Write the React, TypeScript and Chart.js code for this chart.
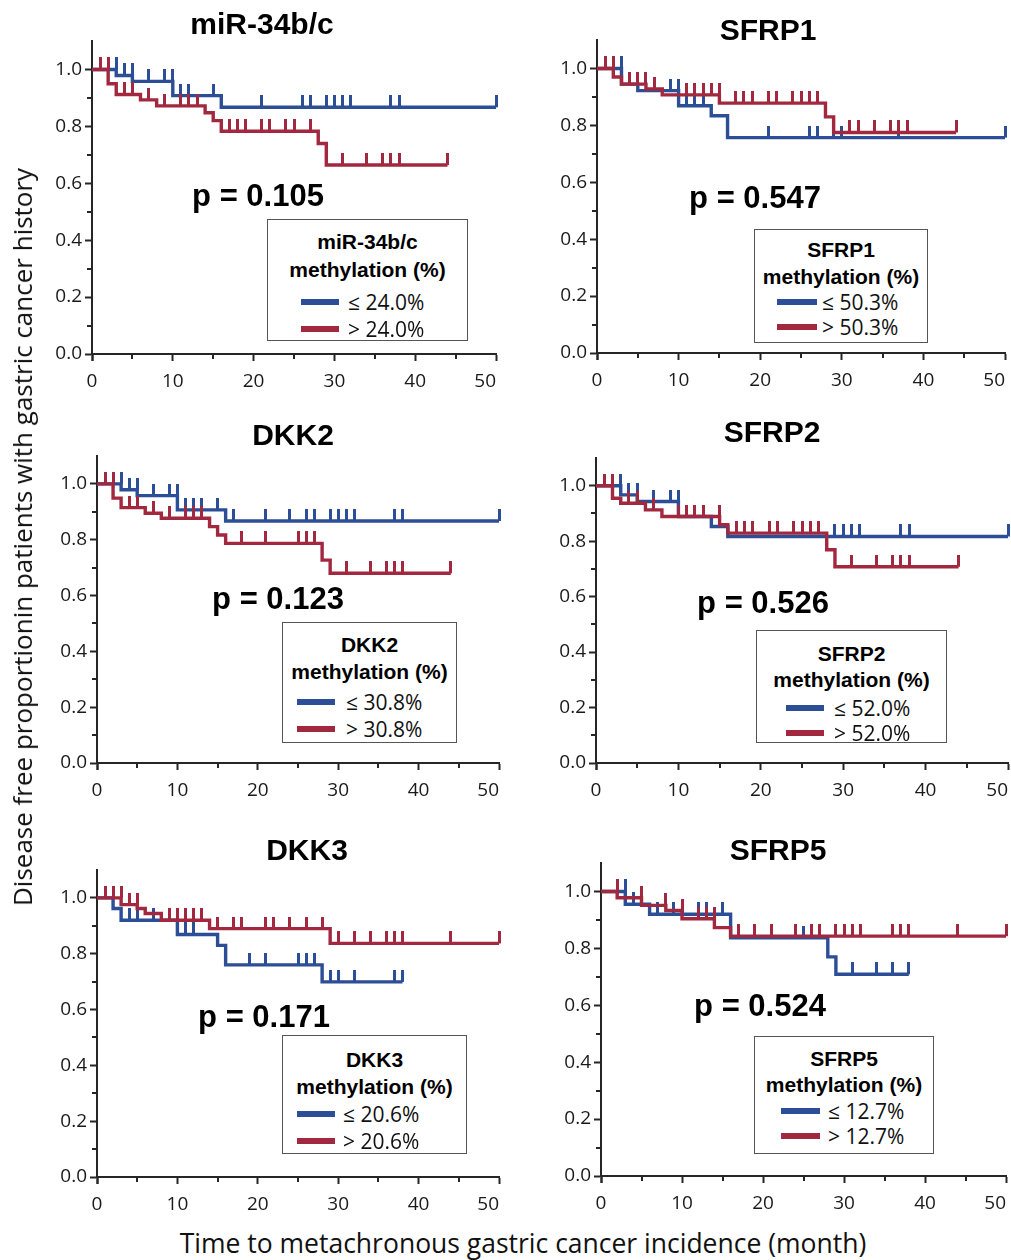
import React, { useEffect, useRef } from "react";
import { Chart, registerables } from "chart.js";

Chart.register(...registerables);

const BLUE = "#2b4e96";
const RED = "#a2283f";
const AXIS = "#262626";

// ---- axis ticks ----
const xTickValues = [0, 10, 20, 30, 40, 50];
const xMinorValues = [5, 15, 25, 35, 45];
const yTickValues = [0, 0.2, 0.4, 0.6, 0.8, 1.0];
const yMinorValues = [0.1, 0.3, 0.5, 0.7, 0.9];
const X_MAX = 50;
const Y_MAX = 1.1;

// ---- panel texts ----
const panelTitles = ["miR-34b/c", "SFRP1", "DKK2", "SFRP2", "DKK3", "SFRP5"];
const pValues = ["p = 0.105", "p = 0.547", "p = 0.123", "p = 0.526", "p = 0.171", "p = 0.524"];
const cutoffs = ["24.0%", "50.3%", "30.8%", "52.0%", "20.6%", "12.7%"];

// ---- miR-34b/c ----
const mirLowTimes = [3, 5, 10, 16];
const mirLowSurv = [0.979, 0.958, 0.908, 0.867];
const mirLowCensor = [3, 4, 5, 7, 9, 10, 11, 12, 15, 21, 26, 27, 29, 30, 31, 32, 37, 38, 50];
const mirHighTimes = [2, 3, 6, 8, 14, 15, 16, 28, 29];
const mirHighSurv = [0.95, 0.912, 0.893, 0.872, 0.848, 0.82, 0.783, 0.74, 0.664];
const mirHighCensor = [1, 2, 4, 5, 7, 9, 11, 12, 13, 17, 18, 19, 21, 22, 24, 25, 27, 31, 34, 36, 37, 38, 44];

// ---- SFRP1 ----
const sfrp1LowTimes = [3, 5, 10, 14, 16];
const sfrp1LowSurv = [0.945, 0.922, 0.869, 0.834, 0.757];
const sfrp1LowCensor = [3, 9, 10, 11, 12, 13, 21, 26, 27, 29, 30, 37, 50];
const sfrp1HighTimes = [2, 3, 6, 8, 15, 28, 29];
const sfrp1HighSurv = [0.97, 0.945, 0.928, 0.907, 0.878, 0.83, 0.775];
const sfrp1HighCensor = [1, 2, 4, 5, 6, 7, 11, 12, 13, 14, 15, 17, 18, 19, 21, 22, 24, 25, 26, 27, 31, 32, 34, 36, 37, 38, 44];

// ---- DKK2 ----
const dkk2LowTimes = [3, 5, 10, 16];
const dkk2LowSurv = [0.979, 0.958, 0.907, 0.867];
const dkk2LowCensor = [3, 4, 5, 7, 9, 10, 11, 12, 13, 15, 17, 21, 24, 26, 27, 29, 30, 31, 32, 37, 38, 50];
const dkk2HighTimes = [2, 3, 6, 8, 14, 15, 16, 28, 29];
const dkk2HighSurv = [0.949, 0.915, 0.895, 0.877, 0.847, 0.817, 0.787, 0.727, 0.68];
const dkk2HighCensor = [1, 2, 4, 5, 7, 9, 11, 12, 13, 18, 21, 25, 26, 27, 31, 34, 36, 37, 38, 44];

// ---- SFRP2 ----
const sfrp2LowTimes = [3, 5, 10, 14, 16];
const sfrp2LowSurv = [0.967, 0.943, 0.889, 0.853, 0.817];
const sfrp2LowCensor = [3, 4, 5, 7, 9, 10, 29, 30, 31, 32, 37, 38, 50];
const sfrp2HighTimes = [2, 3, 6, 8, 15, 16, 28, 29];
const sfrp2HighSurv = [0.955, 0.937, 0.913, 0.889, 0.859, 0.829, 0.769, 0.708];
const sfrp2HighCensor = [1, 2, 4, 5, 7, 10, 11, 12, 13, 15, 17, 18, 19, 21, 22, 24, 25, 26, 27, 31, 34, 36, 37, 38, 44];

// ---- DKK3 ----
const dkk3LowTimes = [2, 3, 10, 15, 16, 28];
const dkk3LowSurv = [0.962, 0.92, 0.869, 0.83, 0.76, 0.699];
const dkk3LowCensor = [4, 5, 7, 11, 12, 19, 21, 25, 26, 27, 29, 30, 32, 37, 38];
const dkk3HighTimes = [3, 5, 6, 8, 14, 29];
const dkk3HighSurv = [0.976, 0.962, 0.944, 0.92, 0.89, 0.837];
const dkk3HighCensor = [1, 2, 3, 4, 5, 9, 10, 11, 12, 13, 15, 17, 18, 21, 22, 24, 26, 28, 30, 32, 34, 36, 37, 38, 44, 50];

// ---- SFRP5 ----
const sfrp5LowTimes = [3, 6, 16, 28, 29];
const sfrp5LowSurv = [0.955, 0.92, 0.837, 0.77, 0.709];
const sfrp5LowCensor = [3, 4, 5, 7, 9, 10, 12, 13, 15, 25, 31, 34, 36, 38];
const sfrp5HighTimes = [2, 5, 8, 10, 14, 16];
const sfrp5HighSurv = [0.978, 0.951, 0.933, 0.904, 0.873, 0.843];
const sfrp5HighCensor = [2, 5, 8, 10, 12, 13, 14, 17, 19, 21, 24, 26, 27, 29, 30, 31, 32, 36, 37, 38, 44, 50];

type Series = { times: number[]; surv: number[]; censor: number[] };

const seriesLow: Series[] = [
  { times: mirLowTimes, surv: mirLowSurv, censor: mirLowCensor },
  { times: sfrp1LowTimes, surv: sfrp1LowSurv, censor: sfrp1LowCensor },
  { times: dkk2LowTimes, surv: dkk2LowSurv, censor: dkk2LowCensor },
  { times: sfrp2LowTimes, surv: sfrp2LowSurv, censor: sfrp2LowCensor },
  { times: dkk3LowTimes, surv: dkk3LowSurv, censor: dkk3LowCensor },
  { times: sfrp5LowTimes, surv: sfrp5LowSurv, censor: sfrp5LowCensor },
];
const seriesHigh: Series[] = [
  { times: mirHighTimes, surv: mirHighSurv, censor: mirHighCensor },
  { times: sfrp1HighTimes, surv: sfrp1HighSurv, censor: sfrp1HighCensor },
  { times: dkk2HighTimes, surv: dkk2HighSurv, censor: dkk2HighCensor },
  { times: sfrp2HighTimes, surv: sfrp2HighSurv, censor: sfrp2HighCensor },
  { times: dkk3HighTimes, surv: dkk3HighSurv, censor: dkk3HighCensor },
  { times: sfrp5HighTimes, surv: sfrp5HighSurv, censor: sfrp5HighCensor },
];

// ---- layout (pixels) ----
// plot area: x of value 0, x of value 50, y of value 1.0, y of value 0
const plotGeo = [
  { x0: 92, x1: 496, y1: 69, y0: 354 },
  { x0: 597, x1: 1005, y1: 68, y0: 353 },
  { x0: 97, x1: 499, y1: 484, y0: 763 },
  { x0: 596, x1: 1008, y1: 486, y0: 763 },
  { x0: 97, x1: 499, y1: 898, y0: 1177 },
  { x0: 601, x1: 1006, y1: 891, y0: 1176 },
];
const titlePos = [
  [262, 24], [768, 30], [293, 435], [772, 432], [307, 850], [778, 850],
];
const pPos = [
  [258, 195], [755, 197], [278, 598], [763, 602], [264, 1016], [760, 1005],
];
// legend: left, top, width, height, title1 y, title2 y, entry1 y, entry2 y, line left, line width, text left
const legendGeo = [
  [267, 219, 201, 122, 21, 49, 82, 109, 33, 38, 80],
  [754, 229, 174, 114, 19, 46, 72, 97, 22, 40, 67],
  [282, 622, 175, 121, 21, 48, 79, 106, 14, 38, 63],
  [756, 630, 191, 113, 22, 48, 77, 102, 29, 38, 77],
  [282, 1035, 185, 119, 23, 50, 78, 105, 14, 38, 60],
  [754, 1036, 180, 118, 21, 47, 74, 99, 26, 39, 73],
];

const PAD_L = 4;
const AXIS_W = 52;
const PAD_R = 22;
const PAD_T = 14;
const AXIS_H = 40;

function survAt(s: Series, t: number): number {
  let v = 1;
  for (let i = 0; i < s.times.length; i++) if (s.times[i] < t) v = s.surv[i];
  return v;
}

function linePoints(s: Series) {
  const pts = [{ x: 0, y: 1 }];
  s.times.forEach((t, i) => pts.push({ x: t, y: s.surv[i] }));
  const end = Math.max(...s.censor, ...s.times);
  pts.push({ x: end, y: s.surv[s.surv.length - 1] });
  return pts;
}

function censorPoints(s: Series) {
  return s.censor.map((t) => ({ x: t, y: survAt(s, t) }));
}

function makeTick(color: string) {
  const c = document.createElement("canvas");
  c.width = 3;
  c.height = 24;
  const g = c.getContext("2d")!;
  g.fillStyle = color;
  g.fillRect(0, 0, 3, 12);
  return c;
}

const minorTicksPlugin = {
  id: "minorTicks",
  afterDraw(chart: any) {
    const { ctx, chartArea } = chart;
    const xs = chart.scales.x;
    const ys = chart.scales.y;
    ctx.save();
    ctx.strokeStyle = AXIS;
    ctx.lineWidth = 2;
    xMinorValues.forEach((v) => {
      const px = Math.round(xs.getPixelForValue(v));
      ctx.beginPath();
      ctx.moveTo(px, chartArea.bottom);
      ctx.lineTo(px, chartArea.bottom + 5);
      ctx.stroke();
    });
    yMinorValues.forEach((v) => {
      const py = Math.round(ys.getPixelForValue(v));
      ctx.beginPath();
      ctx.moveTo(chartArea.left, py);
      ctx.lineTo(chartArea.left - 5, py);
      ctx.stroke();
    });
    ctx.restore();
  },
};

function Panel({ idx }: { idx: number }) {
  const ref = useRef<HTMLCanvasElement | null>(null);
  const g = plotGeo[idx];
  const yTop = Math.round(g.y0 - Y_MAX * (g.y0 - g.y1));
  const left = g.x0 - AXIS_W - PAD_L;
  const top = yTop - PAD_T;
  const width = g.x1 - g.x0 + AXIS_W + PAD_L + PAD_R;
  const height = g.y0 - yTop + PAD_T + AXIS_H;

  useEffect(() => {
    if (!ref.current) return;
    const low = seriesLow[idx];
    const high = seriesHigh[idx];
    const tickFont = { family: "'Open Sans', sans-serif", size: 19 };
    const chart = new Chart(ref.current, {
      type: "line",
      data: {
        datasets: [
          {
            data: linePoints(high),
            borderColor: RED,
            borderWidth: 3.4,
            stepped: "before",
            pointRadius: 0,
            fill: false,
            clip: false,
          } as any,
          {
            data: censorPoints(high),
            showLine: false,
            pointStyle: makeTick(RED),
            pointRadius: 5,
            clip: false,
          } as any,
          {
            data: linePoints(low),
            borderColor: BLUE,
            borderWidth: 3.4,
            stepped: "before",
            pointRadius: 0,
            fill: false,
            clip: false,
          } as any,
          {
            data: censorPoints(low),
            showLine: false,
            pointStyle: makeTick(BLUE),
            pointRadius: 5,
            clip: false,
          } as any,
        ],
      },
      options: {
        responsive: false,
        animation: false,
        devicePixelRatio: 1,
        events: [],
        layout: { padding: { left: PAD_L, right: PAD_R, top: PAD_T, bottom: 0 } },
        plugins: { legend: { display: false }, tooltip: { enabled: false } },
        scales: {
          x: {
            type: "linear",
            min: 0,
            max: X_MAX,
            // a blank leading tick lets "inner" alignment keep "0" centred
            // while the last label ("50") sits inside the axis end
            afterBuildTicks: (s: any) => {
              s.ticks = [{ value: 0, blank: true }].concat(
                xTickValues.map((v) => ({ value: v })) as any
              );
            },
            afterFit: (s: any) => {
              s.height = AXIS_H;
              s.paddingLeft = 0;
              s.paddingRight = 0;
            },
            border: { color: AXIS, width: 2 },
            grid: { drawOnChartArea: false, tickLength: 7, tickWidth: 2, tickColor: AXIS },
            ticks: {
              autoSkip: false,
              maxRotation: 0,
              align: "inner",
              padding: 9,
              color: "#1a1a1a",
              font: tickFont,
              callback: (v: any, i: number) => (i === 0 ? "" : String(v)),
            },
          },
          y: {
            type: "linear",
            min: 0,
            max: Y_MAX,
            afterBuildTicks: (s: any) => {
              s.ticks = yTickValues.map((v) => ({ value: v }));
            },
            afterFit: (s: any) => {
              s.width = AXIS_W;
              s.paddingTop = 0;
              s.paddingBottom = 0;
            },
            border: { color: AXIS, width: 2 },
            grid: { drawOnChartArea: false, tickLength: 7, tickWidth: 2, tickColor: AXIS },
            ticks: {
              autoSkip: false,
              padding: 3,
              color: "#1a1a1a",
              font: tickFont,
              callback: (v: any) => Number(v).toFixed(1),
            },
          },
        },
      } as any,
      plugins: [minorTicksPlugin],
    });
    return () => chart.destroy();
  }, [idx]);

  const lg = legendGeo[idx];
  const centerText = (x: number, y: number, text: string, font: string) => (
    <div
      style={{
        position: "absolute",
        left: x,
        top: y,
        transform: "translate(-50%, -50%)",
        font,
        lineHeight: 1,
        whiteSpace: "nowrap",
        color: "#000",
      }}
    >
      {text}
    </div>
  );
  const legendTitleStyle = (y: number): React.CSSProperties => ({
    position: "absolute",
    left: 0,
    right: 0,
    top: y,
    transform: "translateY(-50%)",
    textAlign: "center",
    font: "bold 21px 'Liberation Sans', Arial, sans-serif",
    lineHeight: 1,
    whiteSpace: "nowrap",
    color: "#000",
  });
  const entryText = (y: number): React.CSSProperties => ({
    position: "absolute",
    left: lg[10],
    top: y,
    transform: "translateY(-50%)",
    font: "21px 'Open Sans', sans-serif",
    lineHeight: 1,
    whiteSpace: "nowrap",
    color: "#111",
  });
  const entryLine = (y: number, color: string): React.CSSProperties => ({
    position: "absolute",
    left: lg[8],
    width: lg[9],
    top: y - 3,
    height: 6,
    background: color,
  });

  return (
    <>
      <canvas
        ref={ref}
        width={width}
        height={height}
        style={{ position: "absolute", left, top, width, height }}
      />
      {centerText(titlePos[idx][0], titlePos[idx][1], panelTitles[idx], "bold 30px 'Liberation Sans', Arial, sans-serif")}
      {centerText(pPos[idx][0], pPos[idx][1], pValues[idx], "bold 31px 'Liberation Sans', Arial, sans-serif")}
      <div
        style={{
          position: "absolute",
          left: lg[0],
          top: lg[1],
          width: lg[2],
          height: lg[3],
          border: "1px solid #555",
          boxSizing: "border-box",
          background: "#fff",
        }}
      >
        <div style={legendTitleStyle(lg[4])}>{panelTitles[idx]}</div>
        <div style={legendTitleStyle(lg[5])}>methylation (%)</div>
        <div style={entryLine(lg[6], BLUE)} />
        <div style={entryText(lg[6])}>{"\u2264 " + cutoffs[idx]}</div>
        <div style={entryLine(lg[7], RED)} />
        <div style={entryText(lg[7])}>{"> " + cutoffs[idx]}</div>
      </div>
    </>
  );
}

export default function App() {
  return (
    <div
      style={{
        position: "fixed",
        left: 0,
        top: 0,
        width: 1011,
        height: 1260,
        overflow: "hidden",
        background: "#fff",
      }}
    >
      {[0, 1, 2, 3, 4, 5].map((i) => (
        <Panel key={i} idx={i} />
      ))}
      <div
        style={{
          position: "absolute",
          left: 22,
          top: 537,
          transform: "translate(-50%, -50%) rotate(-90deg)",
          font: "26px 'Open Sans', sans-serif",
          lineHeight: 1,
          whiteSpace: "nowrap",
          color: "#111",
        }}
      >
        Disease free proportionin patients with gastric cancer history
      </div>
      <div
        style={{
          position: "absolute",
          left: 523,
          top: 1243,
          transform: "translate(-50%, -50%)",
          font: "26.5px 'Open Sans', sans-serif",
          lineHeight: 1,
          whiteSpace: "nowrap",
          color: "#111",
        }}
      >
        Time to metachronous gastric cancer incidence (month)
      </div>
    </div>
  );
}
